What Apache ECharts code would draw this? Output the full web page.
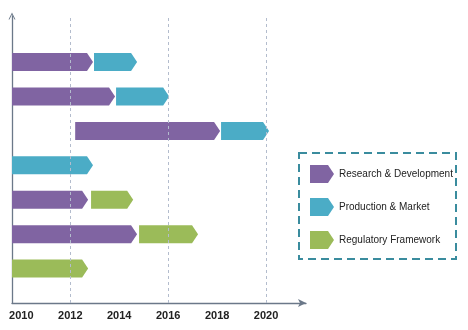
<!DOCTYPE html>
<html>
<head>
<meta charset="utf-8">
<script src="https://cdn.jsdelivr.net/npm/echarts@6/dist/echarts.min.js"></script>
<style>html,body{margin:0;padding:0;background:#fff}#c{width:468px;height:330px}</style>
</head>
<body>
<div id="c"></div>
<script>
// Tick labels (years)
const yearTicks = [2010, 2012, 2014, 2016, 2018, 2020];
const gridYears = [2012, 2016, 2020];
// Each segment: [startYear, endYear, rowLevel] (row 7 = top, row 1 = bottom)
const researchDev = [[2009.62, 2012.93, 7], [2009.62, 2013.83, 6], [2012.20, 2018.12, 5], [2009.62, 2012.73, 3], [2009.62, 2014.73, 2]];
const productionMarket = [[2012.97, 2014.73, 7], [2013.87, 2016.04, 6], [2018.16, 2020.12, 5], [2009.62, 2012.93, 4]];
const regulatoryFramework = [[2012.85, 2014.57, 3], [2014.81, 2017.22, 2], [2009.62, 2012.73, 1]];
const seriesNames = ['Research & Development', 'Production & Market', 'Regulatory Framework'];

const colors = ['#8064A2', '#4BACC6', '#9BBB59'];
const FONT = 'Liberation Sans, Arial, sans-serif';
const BAR_H = 18, TIP = 6;

function renderArrow(params, api) {
  const s = api.coord([api.value(0), api.value(2)]);
  const e = api.coord([api.value(1), api.value(2)]);
  const y = s[1];
  const x0 = s[0], x1 = e[0];
  return {
    type: 'polygon',
    shape: { points: [[x0, y - BAR_H / 2], [x1 - TIP, y - BAR_H / 2], [x1, y], [x1 - TIP, y + BAR_H / 2], [x0, y + BAR_H / 2]] },
    style: { fill: api.visual('color') }
  };
}

function mkSeries(name, data, color) {
  return {
    type: 'custom', name: name, renderItem: renderArrow,
    itemStyle: { color: color },
    encode: { x: [0, 1], y: 2 },
    data: data, silent: true
  };
}

const chart = echarts.init(document.getElementById('c'), null, { renderer: 'canvas' });
chart.setOption({
  animation: false,
  grid: { left: 12, right: 162, top: 16, bottom: 27, containLabel: false },
  xAxis: {
    type: 'value', min: 2009.62, max: 2021.63,
    axisLine: { show: true, lineStyle: { color: '#6b7889', width: 1.3 }, symbol: ['none', 'arrow'], symbolSize: [6, 8] },
    axisTick: { show: false },
    splitLine: { show: false },
    axisLabel: { customValues: yearTicks, formatter: v => String(Math.round(v)), color: '#222', fontWeight: 'bold', fontSize: 11, fontFamily: FONT, margin: 7 }
  },
  yAxis: {
    type: 'value', min: 0, max: 8.34,
    axisLine: { show: true, lineStyle: { color: '#6b7889', width: 1.3 }, symbol: ['none', 'path://M0,10 L5,0 L10,10 L8.6,10 L5,3 L1.4,10 Z'], symbolSize: [7, 7] },
    axisTick: { show: false },
    splitLine: { show: false },
    axisLabel: { show: false }
  },
  legend: {
    data: seriesNames, orient: 'vertical', left: 310, top: 165,
    padding: 0, itemWidth: 24, itemHeight: 18, itemGap: 15,
    icon: 'path://M0,0 L18,0 L24,9 L18,18 L0,18 Z',
    textStyle: { color: '#222', fontSize: 10, fontFamily: FONT },
    selectedMode: false
  },
  graphic: [{
    type: 'rect', shape: { x: 299, y: 153, width: 157, height: 106 },
    style: { fill: 'none', stroke: '#3a8c9e', lineWidth: 2, lineDash: [8, 5] }, silent: true
  }],
  series: [
    mkSeries(seriesNames[0], researchDev, colors[0]),
    mkSeries(seriesNames[1], productionMarket, colors[1]),
    mkSeries(seriesNames[2], regulatoryFramework, colors[2]),
    {
      type: 'line', name: 'grid', data: [], silent: true,
      markLine: {
        silent: true, symbol: ['none', 'none'], label: { show: false },
        lineStyle: { type: [3, 3], color: '#b3bccd', width: 1 },
        data: gridYears.map(v => ({ xAxis: v }))
      }
    }
  ]
});
</script>
</body>
</html>
